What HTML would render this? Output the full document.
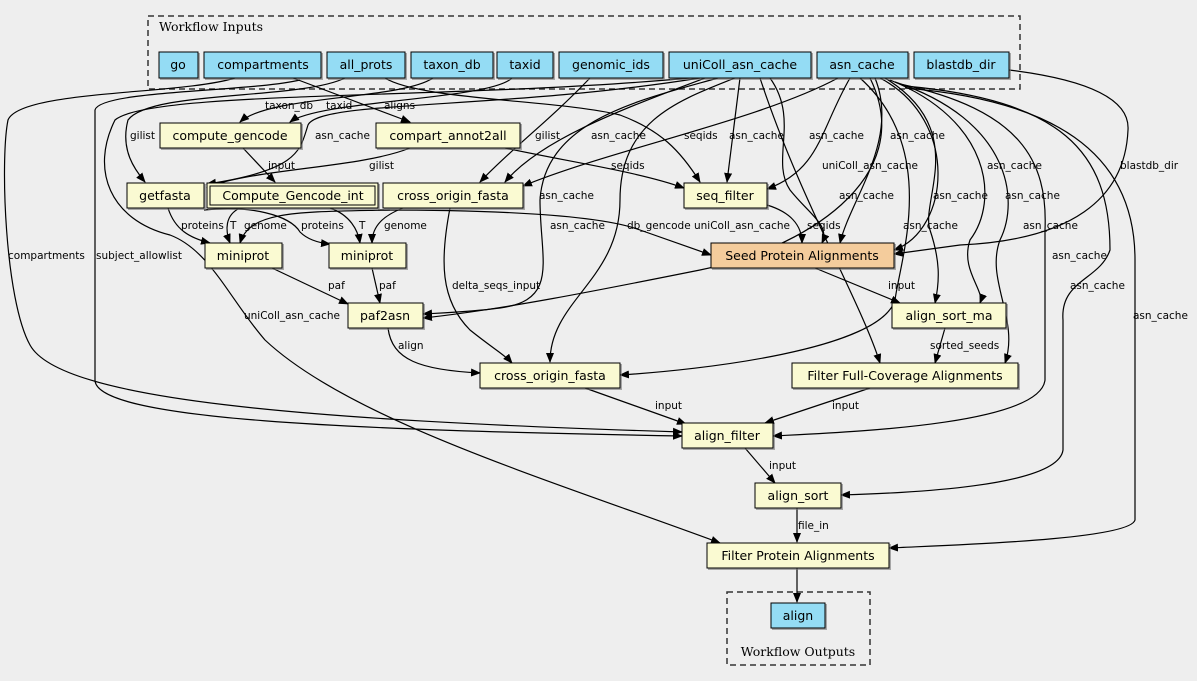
<!DOCTYPE html>
<html><head><meta charset="utf-8"><style>
html,body{margin:0;padding:0;background:#eeeeee;}
svg{display:block;font-family:"DejaVu Sans","Liberation Sans",sans-serif;}
.n{font-size:12.5px;text-anchor:middle;}
.l{font-size:10.5px;}
.e{fill:none;stroke:#000;stroke-width:1.2;}
</style></head><body>
<svg width="1197" height="681" viewBox="0 0 1197 681">
<defs><marker id="a" markerWidth="10" markerHeight="8" refX="9" refY="4" orient="auto" markerUnits="userSpaceOnUse"><path d="M0,0 L10,4 L0,8z" fill="#000"/></marker>
<filter id="s"><feDropShadow dx="1.5" dy="1.5" stdDeviation="0" flood-color="#777" flood-opacity="0.6"/></filter></defs>
<rect x="148" y="16" width="872" height="73" fill="none" stroke="#333" stroke-dasharray="6,4" stroke-width="1.5"/>
<text x="159" y="31" style="font-family:'DejaVu Serif',serif;font-size:12.5px">Workflow Inputs</text>
<rect x="727" y="592" width="143" height="73" fill="none" stroke="#333" stroke-dasharray="6,4" stroke-width="1.5"/>
<text x="798" y="656" style="font-family:'DejaVu Serif',serif;font-size:12.5px;text-anchor:middle">Workflow Outputs</text>
<g class="e">
<!-- compartments -> align_filter -->
<path d="M235,78 C180,95 20,90 8,120 C0,160 5,300 30,345 C60,400 300,420 682,432" marker-end="url(#a)"/>
<!-- subject_allowlist -->
<path d="M300,80 C250,92 100,90 95,110 L95,380 C95,420 350,430 682,436" marker-end="url(#a)"/>
<!-- aligns -->
<path d="M293,78 L410,122" marker-end="url(#a)"/>
<!-- all_prots -> getfasta gilist -->
<path d="M345,78 C300,100 150,90 128,120 C120,150 135,170 145,182" marker-end="url(#a)"/>
<!-- taxon_db -> compute_gencode -->
<path d="M433,78 C400,100 270,95 240,122" marker-end="url(#a)"/>
<!-- taxid -> compute_gencode -->
<path d="M512,78 C490,100 320,100 290,122" marker-end="url(#a)"/>
<!-- all_prots -> seq_filter seqids -->
<path d="M385,78 C420,100 560,100 620,115 C660,130 680,150 700,182" marker-end="url(#a)"/>
<!-- genomic_ids -> cof1 gilist -->
<path d="M590,78 C550,120 510,150 480,182" marker-end="url(#a)"/>
<!-- uniColl -> getfasta asn_cache -->
<path d="M700,78 C500,110 320,100 308,125 C300,150 300,170 207,184" marker-end="url(#a)"/>
<!-- uniColl -> FPA -->
<path d="M690,78 C450,100 150,90 115,120 C90,170 110,220 170,235 C210,250 230,300 265,340 C350,420 550,480 720,543" marker-end="url(#a)"/>
<!-- compute_gencode -> CGI input -->
<path d="M243,148 L275,182" marker-end="url(#a)"/>
<!-- compart_annot2all -> getfasta gilist -->
<path d="M410,148 C360,168 260,168 207,187" marker-end="url(#a)"/>
<!-- compart -> seq_filter seqids -->
<path d="M505,148 C570,162 640,172 684,188" marker-end="url(#a)"/>
<!-- uniColl -> cof1 -->
<path d="M705,78 C620,110 540,140 505,182" marker-end="url(#a)"/>
<!-- asn_cache -> cof1 right -->
<path d="M838,78 C760,120 610,150 523,186" marker-end="url(#a)"/>
<!-- uniColl -> seq_filter -->
<path d="M740,78 L727,182" marker-end="url(#a)"/>
<!-- asn_cache -> seq_filter right -->
<path d="M850,78 C820,130 820,170 767,189" marker-end="url(#a)"/>
<!-- getfasta -> miniprot1 proteins -->
<path d="M168,208 C175,230 190,238 210,243" marker-end="url(#a)"/>
<!-- getfasta -> miniprot2 proteins -->
<path d="M204,210 C250,205 290,215 300,232 C308,240 320,243 330,244" marker-end="url(#a)"/>
<!-- CGI -> miniprot1 T -->
<path d="M240,208 C225,215 225,230 230,243" marker-end="url(#a)"/>
<!-- cof1 -> miniprot1 genome -->
<path d="M390,210 C300,212 250,210 240,243" marker-end="url(#a)"/>
<!-- CGI -> miniprot2 T -->
<path d="M330,208 C350,215 358,230 360,243" marker-end="url(#a)"/>
<!-- cof1 -> miniprot2 genome -->
<path d="M403,208 C385,215 372,225 372,243" marker-end="url(#a)"/>
<!-- CGI -> Seed db_gencode -->
<path d="M378,210 C500,210 600,215 640,230 L711,255" marker-end="url(#a)"/>
<!-- miniprot -> paf2asn -->
<path d="M272,268 L348,304" marker-end="url(#a)"/>
<path d="M372,268 L380,303" marker-end="url(#a)"/>
<!-- cof1 -> cof2 delta -->
<path d="M450,208 C440,260 440,300 470,330 C495,350 505,355 512,363" marker-end="url(#a)"/>
<!-- paf2asn -> cof2 align -->
<path d="M388,328 C392,360 420,370 480,373" marker-end="url(#a)"/>
<!-- uniColl -> paf2asn -->
<path d="M718,78 C640,100 545,120 540,200 C540,260 560,300 500,308 C470,312 440,313 423,314" marker-end="url(#a)"/>
<!-- asn_cache -> paf2asn -->
<path d="M870,78 C920,180 800,250 700,270 C600,290 500,310 423,318" marker-end="url(#a)"/>
<!-- uniColl -> cof2 -->
<path d="M735,78 C680,100 620,120 620,200 C620,280 550,300 550,362" marker-end="url(#a)"/>
<!-- asn_cache -> cof2 right -->
<path d="M860,78 C940,150 900,260 895,300 C880,350 700,370 620,375" marker-end="url(#a)"/>
<!-- uniColl -> Seed -->
<path d="M770,78 C800,120 770,160 790,190 C810,215 830,225 822,243" marker-end="url(#a)"/>
<!-- seq_filter -> Seed seqids -->
<path d="M767,205 C790,212 802,225 802,243" marker-end="url(#a)"/>
<!-- asn_cache -> Seed -->
<path d="M875,78 C900,140 850,200 840,243" marker-end="url(#a)"/>
<path d="M880,78 C960,120 950,230 894,250" marker-end="url(#a)"/>
<!-- blastdb -> Seed -->
<path d="M1009,70 C1090,80 1130,100 1128,130 C1125,200 1070,240 960,245 L894,254" marker-end="url(#a)"/>
<!-- Seed -> align_sort_ma input -->
<path d="M815,268 L900,303" marker-end="url(#a)"/>
<!-- asn_cache -> align_sort_ma -->
<path d="M885,78 C970,130 920,200 930,230 C940,260 940,280 935,303" marker-end="url(#a)"/>
<path d="M890,80 C990,120 1000,200 970,240 C960,270 985,290 980,303" marker-end="url(#a)"/>
<!-- align_sort_ma -> FFC -->
<path d="M945,328 L935,363" marker-end="url(#a)"/>
<!-- uniColl -> FFC -->
<path d="M760,78 C800,200 860,300 880,363" marker-end="url(#a)"/>
<!-- asn_cache -> FFC -->
<path d="M895,82 C1010,120 1020,200 1000,240 C985,280 1020,320 1005,363" marker-end="url(#a)"/>
<!-- cof2 -> align_filter -->
<path d="M585,388 L686,424" marker-end="url(#a)"/>
<!-- FFC -> align_filter -->
<path d="M870,388 L765,423" marker-end="url(#a)"/>
<!-- asn_cache -> align_filter -->
<path d="M900,84 C1020,110 1048,160 1045,230 L1045,380 C1040,425 850,432 773,436" marker-end="url(#a)"/>
<!-- align_filter -> align_sort -->
<path d="M745,448 L775,483" marker-end="url(#a)"/>
<!-- asn_cache -> align_sort -->
<path d="M905,86 C1060,100 1110,150 1110,250 C1100,280 1060,280 1063,320 L1063,450 C1058,488 900,493 841,495" marker-end="url(#a)"/>
<!-- align_sort -> FPA -->
<path d="M797,508 L797,542" marker-end="url(#a)"/>
<!-- asn_cache -> FPA -->
<path d="M905,88 C1050,100 1135,150 1135,260 L1135,520 C1130,540 950,545 889,548" marker-end="url(#a)"/>
<!-- FPA -> align -->
<path d="M797,568 L797,602" marker-end="url(#a)"/>
</g>
<g filter="url(#s)" stroke="#000" stroke-width="1">
<g fill="#94dcf4">
<rect x="159" y="52" width="39" height="26"/><rect x="204" y="52" width="117" height="26"/><rect x="327" y="52" width="78" height="26"/><rect x="411" y="52" width="82" height="26"/><rect x="497" y="52" width="56" height="26"/><rect x="559" y="52" width="104" height="26"/><rect x="669" y="52" width="142" height="26"/><rect x="817" y="52" width="91" height="26"/><rect x="914" y="52" width="95" height="26"/><rect x="771" y="603" width="54" height="25"/>
</g>
<g fill="#fafad2">
<rect x="160" y="123" width="141" height="25"/><rect x="376" y="123" width="144" height="25"/>
<rect x="127" y="183" width="77" height="25"/><rect x="207" y="183" width="171" height="25"/><rect x="383" y="183" width="140" height="25"/><rect x="684" y="183" width="83" height="25"/>
<rect x="205" y="243" width="77" height="25"/><rect x="329" y="243" width="77" height="25"/>
<rect x="348" y="303" width="75" height="25"/><rect x="892" y="303" width="114" height="25"/>
<rect x="480" y="363" width="140" height="25"/><rect x="792" y="363" width="226" height="25"/>
<rect x="682" y="423" width="91" height="25"/><rect x="755" y="483" width="86" height="25"/><rect x="707" y="543" width="182" height="25"/>
</g>
<rect x="711" y="243" width="183" height="25" fill="#f4cc9c"/>
</g>
<rect x="210" y="186" width="165" height="19" fill="none" stroke="#000"/>
<g class="n">
<text x="178" y="69">go</text><text x="263" y="69">compartments</text><text x="366" y="69">all_prots</text><text x="452" y="69">taxon_db</text><text x="525" y="69">taxid</text><text x="611" y="69">genomic_ids</text><text x="740" y="69">uniColl_asn_cache</text><text x="862" y="69">asn_cache</text><text x="961" y="69">blastdb_dir</text>
<text x="230" y="140">compute_gencode</text><text x="448" y="140">compart_annot2all</text>
<text x="165" y="200">getfasta</text><text x="293" y="200">Compute_Gencode_int</text><text x="453" y="200">cross_origin_fasta</text><text x="725" y="200">seq_filter</text>
<text x="243" y="260">miniprot</text><text x="367" y="260">miniprot</text><text x="802" y="260">Seed Protein Alignments</text>
<text x="385" y="320">paf2asn</text><text x="949" y="320">align_sort_ma</text>
<text x="550" y="380">cross_origin_fasta</text><text x="905" y="380">Filter Full-Coverage Alignments</text>
<text x="727" y="440">align_filter</text><text x="798" y="500">align_sort</text><text x="798" y="560">Filter Protein Alignments</text>
<text x="798" y="620">align</text>
</g>
<g class="l">
<text x="265" y="109">taxon_db</text><text x="326" y="109">taxid</text><text x="384" y="109">aligns</text>
<text x="130" y="139">gilist</text><text x="315" y="139">asn_cache</text><text x="535" y="139">gilist</text><text x="591" y="139">asn_cache</text><text x="684" y="139">seqids</text><text x="729" y="139">asn_cache</text><text x="809" y="139">asn_cache</text><text x="890" y="139">asn_cache</text>
<text x="268" y="169">input</text><text x="369" y="169">gilist</text><text x="611" y="169">seqids</text><text x="822" y="169">uniColl_asn_cache</text><text x="987" y="169">asn_cache</text><text x="1120" y="169">blastdb_dir</text>
<text x="539" y="199">asn_cache</text><text x="839" y="199">asn_cache</text><text x="933" y="199">asn_cache</text><text x="1005" y="199">asn_cache</text>
<text x="181" y="229">proteins</text><text x="230" y="229">T</text><text x="244" y="229">genome</text><text x="301" y="229">proteins</text><text x="359" y="229">T</text><text x="384" y="229">genome</text><text x="550" y="229">asn_cache</text><text x="627" y="229">db_gencode</text><text x="694" y="229">uniColl_asn_cache</text><text x="807" y="229">seqids</text><text x="903" y="229">asn_cache</text><text x="1023" y="229">asn_cache</text>
<text x="8" y="259">compartments</text><text x="96" y="259">subject_allowlist</text><text x="1052" y="259">asn_cache</text>
<text x="328" y="289">paf</text><text x="379" y="289">paf</text><text x="452" y="289">delta_seqs_input</text><text x="888" y="289">input</text><text x="1070" y="289">asn_cache</text>
<text x="244" y="319">uniColl_asn_cache</text><text x="1133" y="319">asn_cache</text>
<text x="398" y="349">align</text><text x="930" y="349">sorted_seeds</text>
<text x="655" y="409">input</text><text x="832" y="409">input</text>
<text x="769" y="469">input</text><text x="798" y="529">file_in</text>
</g>
</svg>
</body></html>
